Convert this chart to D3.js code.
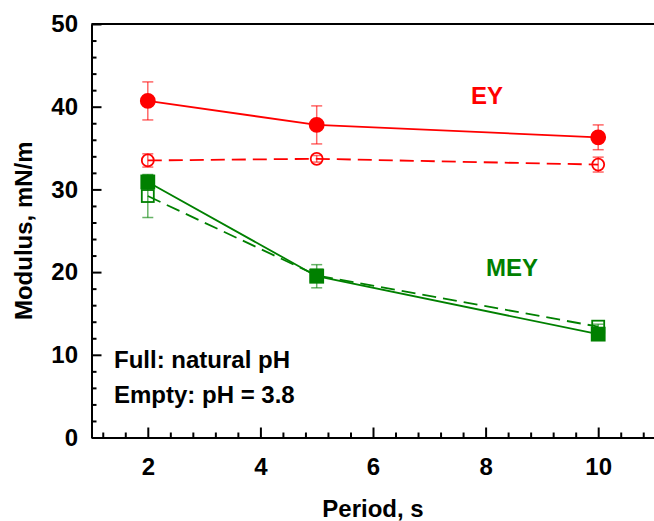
<!DOCTYPE html>
<html><head><meta charset="utf-8">
<script src="https://cdn.jsdelivr.net/npm/d3@7"></script>
<style>body{margin:0;background:#fff}svg{display:block}text{font-family:"Liberation Sans",Arial,sans-serif;font-weight:bold}</style>
</head><body><svg id="c" width="654" height="521"></svg>
<script>
const periods = [2, 5, 10];
const eyFull = [40.7, 37.8, 36.3];
const eyFullErr = [2.3, 2.3, 1.5];
const eyEmpty = [33.5, 33.7, 33.0];
const eyEmptyErr = [0.8, 0.4, 0.9];
const meyFull = [30.9, 19.5, 12.5];
const meyFullErr = [0.8, 1.4, 0.3];
const meyEmpty = [29.2, 19.6, 13.4];
const meyEmptyErr = [2.6, 0.6, 0.3];
const xTicks = [2, 4, 6, 8, 10];
const yTicks = [0, 10, 20, 30, 40, 50];

const svg = d3.select("#c");
const x = d3.scaleLinear().domain([1, 11]).range([91.5, 654.5]);
const y = d3.scaleLinear().domain([0, 50]).range([437.5, 24]);

const g = svg.append("g");
g.append("line").attr("x1", x(1)).attr("x2", 654).attr("y1", y(50)).attr("y2", y(50)).attr("stroke", "#000").attr("stroke-width", 2);

const xMinor = d3.range(1.2, 11, 0.4).filter(v => Math.abs(v/2 - Math.round(v/2)) > 0.01);
const yMinor = d3.range(2, 50, 2).filter(v => v % 10 !== 0);
const xa = g.append("g").attr("transform", `translate(0,${y(0)})`)
  .call(d3.axisBottom(x).tickValues(xTicks).tickSizeInner(-10).tickSizeOuter(0).tickPadding(20.5).tickFormat(d3.format("d")));
xa.select(".domain").attr("stroke-width", 2);
xa.selectAll(".tick line").attr("stroke-width", 2);
xa.selectAll("text").attr("font-size", 24).attr("fill", "#000");
const xm = g.append("g").attr("transform", `translate(0,${y(0)})`)
  .call(d3.axisBottom(x).tickValues(xMinor).tickSizeInner(-5).tickSizeOuter(0).tickFormat(""));
xm.select(".domain").remove();
xm.selectAll(".tick line").attr("stroke-width", 2);

const ya = g.append("g").attr("transform", `translate(${x(1)},0)`)
  .call(d3.axisLeft(y).tickValues(yTicks).tickSizeInner(-10).tickSizeOuter(0).tickPadding(13.5).tickFormat(d3.format("d")));
ya.select(".domain").attr("stroke-width", 2);
ya.selectAll(".tick line").attr("stroke-width", 2);
ya.selectAll("text").attr("font-size", 24).attr("fill", "#000");
const ym = g.append("g").attr("transform", `translate(${x(1)},0)`)
  .call(d3.axisLeft(y).tickValues(yMinor).tickSizeInner(-5).tickSizeOuter(0).tickFormat(""));
ym.select(".domain").remove();
ym.selectAll(".tick line").attr("stroke-width", 2);

svg.append("text").attr("x", 373).attr("y", 517).attr("text-anchor", "middle").attr("font-size", 24).text("Period, s");
svg.append("text").attr("transform", `translate(32,${y(25)}) rotate(-90)`).attr("text-anchor", "middle").attr("font-size", 24).text("Modulus, mN/m");

const series = [
  {vals: eyFull, err: eyFullErr, color: "#ff0000", dash: null, shape: "circle", filled: true},
  {vals: eyEmpty, err: eyEmptyErr, color: "#ff0000", dash: "14,7", shape: "circle", filled: false},
  {vals: meyEmpty, err: meyEmptyErr, color: "#008000", dash: "14,7", shape: "square", filled: false},
  {vals: meyFull, err: meyFullErr, color: "#008000", dash: null, shape: "square", filled: true},
];
const line = d3.line().x((d, i) => x(periods[i])).y(d => y(d));
series.forEach(s => {
  const sg = svg.append("g");
  s.vals.forEach((v, i) => {
    const cx = x(periods[i]);
    const e = sg.append("g").attr("stroke", s.color).attr("stroke-opacity", 0.6).attr("stroke-width", 1.5);
    e.append("line").attr("x1", cx).attr("x2", cx).attr("y1", y(v + s.err[i])).attr("y2", y(v - s.err[i]));
    e.append("line").attr("x1", cx - 5.5).attr("x2", cx + 5.5).attr("y1", y(v + s.err[i])).attr("y2", y(v + s.err[i]));
    e.append("line").attr("x1", cx - 5.5).attr("x2", cx + 5.5).attr("y1", y(v - s.err[i])).attr("y2", y(v - s.err[i]));
  });
  sg.append("path").datum(s.vals).attr("d", line).attr("fill", "none").attr("stroke", s.color).attr("stroke-width", 1.8)
    .attr("stroke-dasharray", s.dash);
  s.vals.forEach((v, i) => {
    const cx = x(periods[i]), cy = y(v);
    if (s.shape === "circle") {
      sg.append("circle").attr("cx", cx).attr("cy", cy).attr("r", s.filled ? 7 : 6)
        .attr("fill", s.filled ? s.color : "none").attr("stroke", s.color).attr("stroke-width", 1.8);
    } else {
      const h = s.filled ? 6.5 : 6;
      sg.append("rect").attr("x", cx - h).attr("y", cy - h).attr("width", 2 * h).attr("height", 2 * h)
        .attr("fill", s.filled ? s.color : "none").attr("stroke", s.color).attr("stroke-width", 1.8);
    }
  });
});

svg.append("text").attr("x", 471).attr("y", 104).attr("font-size", 24).attr("fill", "#ff0000").text("EY");
svg.append("text").attr("x", 486).attr("y", 276).attr("font-size", 24).attr("fill", "#008000").text("MEY");
svg.append("text").attr("x", 114).attr("y", 368).attr("font-size", 24).attr("fill", "#000").text("Full: natural pH");
svg.append("text").attr("x", 114).attr("y", 403).attr("font-size", 24).attr("fill", "#000").text("Empty: pH = 3.8");
</script></body></html>
